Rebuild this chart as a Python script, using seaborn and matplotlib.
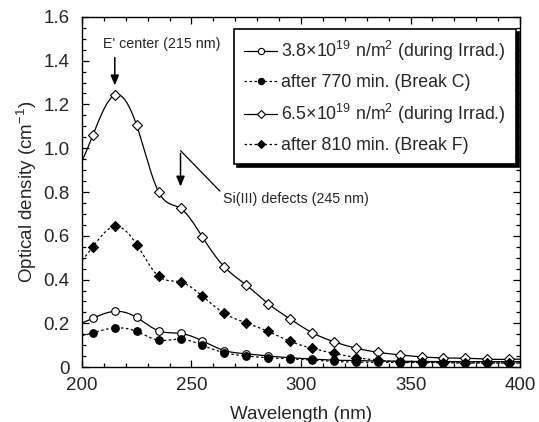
import matplotlib
matplotlib.use("Agg")
import matplotlib.pyplot as plt
import seaborn as sns
import numpy as np
import pandas as pd
from matplotlib.lines import Line2D
from matplotlib.ticker import MultipleLocator

# wavelengths of the measured points (nm)
wavelength = [205, 215, 225, 235, 245, 255, 265, 275, 285, 295,
              305, 315, 325, 335, 345, 355, 365, 375, 385, 395]

# optical density (cm^-1)
od_38_irrad = [0.223, 0.255, 0.227, 0.166, 0.154, 0.120, 0.076, 0.061, 0.051, 0.043,
               0.037, 0.032, 0.030, 0.028, 0.027, 0.026, 0.026, 0.025, 0.025, 0.025]
od_770_break = [0.157, 0.179, 0.163, 0.123, 0.128, 0.100, 0.066, 0.051, 0.043, 0.038,
                0.032, 0.026, 0.023, 0.022, 0.021, 0.020, 0.020, 0.019, 0.019, 0.019]
od_65_irrad = [1.060, 1.243, 1.104, 0.800, 0.725, 0.594, 0.458, 0.375, 0.290, 0.220,
               0.158, 0.116, 0.087, 0.068, 0.056, 0.047, 0.042, 0.041, 0.036, 0.036]
od_810_break = [0.550, 0.643, 0.560, 0.415, 0.389, 0.324, 0.246, 0.202, 0.163, 0.118,
                0.086, 0.063, 0.044, 0.032, 0.025, 0.022, 0.021, 0.020, 0.019, 0.019]

labels = [
    "3.8×10$^{19}$ n/m$^{2}$ (during Irrad.)",
    "after 770 min. (Break C)",
    "6.5×10$^{19}$ n/m$^{2}$ (during Irrad.)",
    "after 810 min. (Break F)",
]


def smooth(x, y, xs):
    """natural cubic spline through the points, just for drawing the curve"""
    x = np.asarray(x, float)
    y = np.asarray(y, float)
    n = len(x)
    h = np.diff(x)
    A = np.zeros((n, n))
    b = np.zeros(n)
    A[0, 0] = A[-1, -1] = 1
    for i in range(1, n - 1):
        A[i, i - 1] = h[i - 1]
        A[i, i] = 2 * (h[i - 1] + h[i])
        A[i, i + 1] = h[i]
        b[i] = 3 * ((y[i + 1] - y[i]) / h[i] - (y[i] - y[i - 1]) / h[i - 1])
    c = np.linalg.solve(A, b)
    bc = (y[1:] - y[:-1]) / h - h * (2 * c[:-1] + c[1:]) / 3
    d = (c[1:] - c[:-1]) / (3 * h)
    idx = np.clip(np.searchsorted(x, xs) - 1, 0, n - 2)
    dx = xs - x[idx]
    return y[idx] + bc[idx] * dx + c[idx] * dx ** 2 + d[idx] * dx ** 3


sns.set_style("ticks")
plt.rcParams["font.family"] = ["Liberation Sans", "DejaVu Sans"]
plt.rcParams["mathtext.default"] = "regular"
plt.rcParams["xtick.direction"] = "in"
plt.rcParams["ytick.direction"] = "in"

fig = plt.figure(figsize=(5.39, 4.22), dpi=100)
ax = fig.add_axes([0.152, 0.130, 0.813, 0.830])

series = [
    (od_38_irrad, "o", "white", "-"),
    (od_770_break, "o", "black", (0, (2, 2))),
    (od_65_irrad, "D", "white", "-"),
    (od_810_break, "D", "black", (0, (2, 2))),
]

xs = np.linspace(200, 400, 401)
handles = []
for (vals, mk, fc, ls), lab in zip(series, labels):
    curve = pd.DataFrame({"x": xs, "y": smooth(wavelength, vals, xs)})
    sns.lineplot(data=curve, x="x", y="y", ax=ax, color="black", lw=0.9,
                 linestyle=ls, sort=False, legend=False)
    pts = pd.DataFrame({"x": wavelength, "y": vals})
    size = 26 if mk == "D" else 30
    sns.scatterplot(data=pts, x="x", y="y", ax=ax, marker=mk, s=size,
                    facecolor=fc, edgecolor="black", linewidth=0.8,
                    zorder=3, legend=False)
    handles.append(Line2D([], [], color="black", lw=0.9, linestyle=ls,
                          marker=mk, markersize=4 if mk == "D" else 4.5,
                          markerfacecolor=fc, markeredgecolor="black",
                          markeredgewidth=0.8, label=lab))

ax.set_xlim(200, 400)
ax.set_ylim(0, 1.6)
ax.xaxis.set_major_locator(MultipleLocator(50))
ax.xaxis.set_minor_locator(MultipleLocator(10))
ax.yaxis.set_major_locator(MultipleLocator(0.2))
ax.yaxis.set_minor_locator(MultipleLocator(0.05))
ax.yaxis.set_major_formatter(plt.FuncFormatter(lambda v, p: "0" if v == 0 else f"{v:.1f}"))
ax.tick_params(which="both", top=True, right=True, labelsize=13.5, color="black")
ax.tick_params(which="major", length=5, width=0.9)
ax.tick_params(which="minor", length=3, width=0.9)
ax.tick_params(axis="y", which="major", pad=9)
ax.tick_params(axis="x", which="major", pad=7)
for sp in ax.spines.values():
    sp.set_linewidth(1.0)
    sp.set_color("black")

ax.set_xlabel("Wavelength (nm)", fontsize=13.5, labelpad=9)
ax.set_ylabel("Optical density (cm$^{-1}$)", fontsize=13.5, labelpad=3)

leg = ax.legend(handles=handles, loc="upper right", bbox_to_anchor=(0.991, 0.966),
                fontsize=12.8, frameon=True, fancybox=False, framealpha=1,
                edgecolor="black", handlelength=1.85, handletextpad=0.2,
                labelspacing=0.61, borderpad=0.59, borderaxespad=0,
                shadow={"color": "black", "alpha": 1})
leg.get_frame().set_linewidth(1.2)

# E' center arrow
ax.annotate("", xy=(215, 1.274), xytext=(215, 1.427),
            arrowprops=dict(arrowstyle="-|>,head_length=0.6,head_width=0.25",
                            color="black", lw=1.1))
ax.text(209.5, 1.475, "E' center (215 nm)", fontsize=10.3, va="center", ha="left")

# Si(III) arrow with pointer line
ax.annotate("", xy=(245, 0.812), xytext=(245, 0.989),
            arrowprops=dict(arrowstyle="-|>,head_length=0.6,head_width=0.25",
                            color="black", lw=1.1))
ax.plot([245, 263.0], [0.989, 0.804], color="black", lw=0.9)
ax.text(264.5, 0.766, "Si(III) defects (245 nm)", fontsize=10.3, va="center", ha="left")

fig.savefig("out.png", dpi=100)
